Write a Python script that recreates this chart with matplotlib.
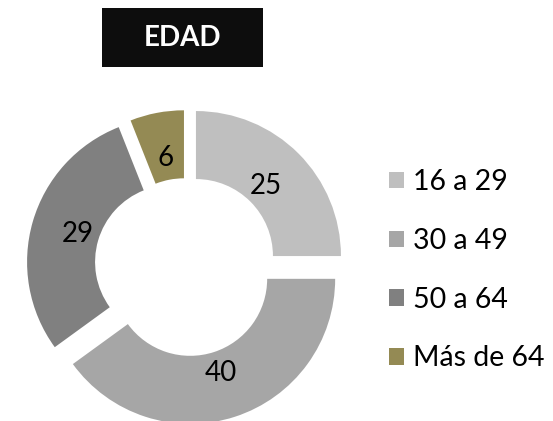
import matplotlib
matplotlib.use("Agg")
import matplotlib.pyplot as plt

categories = ["16 a 29", "30 a 49", "50 a 64", "Más de 64"]
values = [25, 40, 29, 6]
colors = ["#BFBFBF", "#A6A6A6", "#808080", "#948A54"]
explode_frac = [0.097, 0.093, 0.10, 0.075]
title = "EDAD"

plt.rcParams['font.family'] = ['Lato', 'DejaVu Sans']

W, H = 553, 421
R = 145
fig = plt.figure(figsize=(W / 100, H / 100), dpi=100)
ax = fig.add_axes([0, 0, 1, 1])

total = sum(values)
wedges, texts, autotexts = ax.pie(
    values, colors=colors, explode=[e * R for e in explode_frac],
    startangle=90, counterclock=False,
    center=(186, H - 266), radius=R, frame=True,
    wedgeprops=dict(width=68, edgecolor='none'),
    autopct=lambda p: f"{round(p * total / 100)}", pctdistance=0.68,
    textprops=dict(fontsize=20, color='black'))
ax.set_xlim(0, W)
ax.set_ylim(0, H)
ax.set_aspect('equal')
ax.axis('off')

# Title box
ax.add_patch(plt.Rectangle((102, H - 67), 161, 59, facecolor='#0D0D0D',
                           edgecolor='none', zorder=0))
ax.text(182, H - 38, title, ha='center', va='center', color='white',
        fontsize=20, fontweight='bold')

leg = ax.legend(wedges, categories, loc='upper left',
                bbox_to_anchor=(375 / W, 1 - 155 / H), frameon=False,
                fontsize=20.5, handlelength=0.52, handleheight=0.52,
                handletextpad=0.32, labelspacing=1.15, borderpad=0)
plt.savefig("out.png", dpi=100)
